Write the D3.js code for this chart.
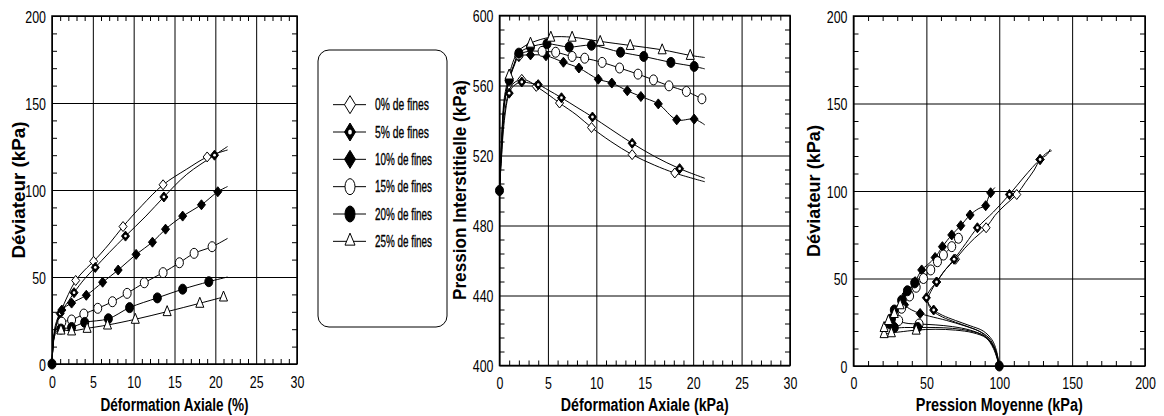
<!DOCTYPE html>
<html><head><meta charset="utf-8">
<script src="https://cdn.jsdelivr.net/npm/d3@7"></script>
<style>
body{margin:0;background:#fff;}
svg text{font-family:"Liberation Sans Narrow","Arial Narrow","Liberation Sans",Arial,sans-serif;fill:#000;}
</style></head><body>
<svg id="c" width="1164" height="416"></svg>
<script>
// ---------- data ----------
const fines = ["0% de fines","5% de fines","10% de fines","15% de fines","20% de fines","25% de fines"];
const markerTypes = ["diamondOpen","diamondDot","diamondFilled","circleOpen","circleFilled","triangleOpen"];

// Déviateur vs Déformation axiale (%)  [x, y, marker?]
const devStrain0 = [[0,0],[0.15,12],[0.4,20],[1,29],[2,40],[2.9,48,1],[4,54],[5.1,59,1],[7,69],[8.7,79,1],[11,91],[13.6,103,1],[16.5,112],[19,119,1],[21.5,123]];
const devStrain5 = [[0,0],[0.15,12],[0.4,20],[1,29,1],[2,36],[2.7,41,1],[4,49],[5.3,55.5,1],[7,64],[9,73.5,1],[11.5,85],[13.7,96,1],[16.5,109],[19.9,120,1],[21.5,125]];
const devStrain10 = [[0,0],[0.15,12],[0.4,22],[1.2,31,1],[2.4,35,1],[4.2,39.5,1],[6.2,47,1],[8.1,54,1],[10.3,63,1],[12.3,70,1],[13.9,77.5,1],[16,85,1],[18.3,91.5,1],[20.3,99,1],[21.5,102]];
const devStrain15 = [[0,0],[0.15,12],[0.4,19],[1.2,24,1],[2.4,25.3,1],[3.9,28.7,1],[5.6,32,1],[7.4,35.8,1],[9.2,40.6,1],[11.3,46.7,1],[13.6,52.5,1],[15.6,58.2,1],[17.4,63.6,1],[19.6,67.4,1],[21.5,72.2]];
const devStrain20 = [[0,0,1],[0.15,12],[0.4,18],[1.1,20.1,1],[2.4,21,1],[4,23.9,1],[6.9,26,1],[9.5,32.4,1],[12.9,38,1],[16,43,1],[19.2,47.3,1],[21.5,50]];
const devStrain25 = [[0,0],[0.15,11],[0.4,17],[1.1,19.5,1],[2.4,19,1],[4.3,20.5,1],[6.8,22.4,1],[10.2,25.7,1],[14.1,30.1,1],[18.1,34.9,1],[21,38.5,1]];

// Pression interstitielle vs Déformation axiale
const poreStrain0 = [[0,500],[0.2,520],[0.5,543],[1,557],[1.5,561.5],[2.3,563.5,1],[3,562.5],[3.8,559.5,1],[5,555],[6.2,550,1],[8,543],[9.5,536,1],[11.5,528],[13.7,520.5,1],[16,514.5],[18.1,510,1],[21.2,505]];
const poreStrain5 = [[0,500],[0.2,518],[0.5,540],[1,555.6,1],[1.5,560],[2.3,562,1],[3,561.5],[4,560.5,1],[5,557.5],[6.4,553,1],[8,547.5],[9.6,542,1],[11.5,535],[13.7,527,1],[16,519.5],[18.6,512.5,1],[21.2,507]];
const poreStrain10 = [[0,500],[0.2,524],[0.5,549],[1,563,1],[1.5,571],[2,576.5,1],[3.2,577.5,1],[4.8,577,1],[6.6,573.3,1],[8.2,570,1],[10.2,563.6,1],[11.6,561.4,1],[13.2,557,1],[14.6,553.7,1],[16.4,549.5,1],[18.3,540.4,1],[20.1,540.8,1],[21.2,537.5]];
const poreStrain15 = [[0,500],[0.2,524],[0.5,550],[1,564],[1.5,572],[2,577.5,1],[3,579.5],[4.4,579.5,1],[5.8,579,1],[7.5,576.6,1],[8.8,575.6,1],[10.6,573.2,1],[12.4,570,1],[14.3,566.5,1],[15.9,563.2,1],[17.5,559.8,1],[19.3,556.6,1],[20.9,552.4,1],[21.2,551.5]];
const poreStrain20 = [[0,500,1],[0.2,525],[0.5,550],[1,563,1],[1.5,572],[2,578.5,1],[3.2,582,1],[4.9,583.8,1],[7.2,582,1],[9.5,583,1],[12.5,579,1],[14.9,576.6,1],[17.7,573.2,1],[20.1,570.9,1],[21.2,569.5]];
const poreStrain25 = [[0,500],[0.2,527],[0.5,553],[1,566,1],[1.5,575],[2,580],[3.2,584.2,1],[5.3,587.6,1],[7.5,587.6,1],[10.4,585.2,1],[13.5,582.9,1],[16.8,580.4,1],[19.7,577.2,1],[21.2,576]];

// Déviateur vs Pression moyenne
const pathPQ0 = [[100,0],[98,8],[94,14],[88,19],[80,22],[70,25],[61,28],[55,31],[52,34],[51,38],[54,44],[57,48,1],[63,55],[70,61,1],[76,67],[83,73],[91,79,1],[97,86],[104,92],[112,98,1],[118,105],[124,112],[128,118,1],[133,122],[136,123]];
const pathPQ5 = [[100,0],[98,9],[95,15],[89,20],[80,23],[70,26],[61,29],[55,32,1],[52,35],[50,39,1],[53,44],[57,48,1],[63,55],[69,61,1],[77,70],[85,79,1],[96,88],[107,98,1],[117,108],[128,118,1],[133,121],[135,124]];
const pathPQ10 = [[100,0],[97,10],[93,16],[86,20],[76,23],[64,26],[52,28.5],[45.7,30,1],[40,32],[35,35,1],[34,38],[36,41,1],[39,44],[42.3,48.2,1],[46.8,54.9,1],[51,58],[56,62,1],[61,68.2,1],[67.4,74.9,1],[73.6,80.2,1],[80,86.3,1],[86,90],[90.7,91.6,1],[92,95],[94.1,99,1],[97,102]];
const pathPQ15 = [[100,0],[96,11],[90,17],[80,20.5],[68,22.5],[56,23.5],[45,24,1],[36,24.5],[31,26,1],[30.5,29],[33,33,1],[35,36],[38.5,40,1],[43,45,1],[48,50,1],[53,54.9,1],[57.6,59.6,1],[61.7,63.4,1],[67.4,68.2,1],[72,73,1],[73,74]];
const pathPQ20 = [[100,0,1],[96,11],[90,17],[80,20],[68,21.5],[56,22],[44,22,1],[35,22],[28,22,1],[25,24,1],[26,27,1],[28,32,1],[33,37.5,1],[37,43,1],[42,47.5,1],[45,50]];
const pathPQ25 = [[100,0],[96,10],[91,16],[82,19],[70,20.5],[56,21],[43,20.5,1],[32,19.5],[26,19,1],[21,18.5,1],[20,19.5],[21,22,1],[24,26,1],[28,30,1],[32,35,1],[37,38.5]];

// axis tick settings
const ticksLeftX = [0,5,10,15,20,25,30];
const ticksLeftY = [0,50,100,150,200];
const ticksMidX = [0,5,10,15,20,25,30];
const ticksMidY = [400,440,480,520,560,600];
const ticksRightX = [0,50,100,150,200];
const ticksRightY = [0,50,100,150,200];

// ---------- drawing ----------
const svg = d3.select("#c");
svg.append("rect").attr("width",1164).attr("height",416).attr("fill","#fff");

function markerPath(type, w, h){
  const p = d3.path();
  if(type.startsWith("diamond")){
    p.moveTo(0,-h/2); p.lineTo(w/2,0); p.lineTo(0,h/2); p.lineTo(-w/2,0); p.closePath();
  } else if(type.startsWith("triangle")){
    p.moveTo(0,-h*0.6); p.lineTo(w/2,h*0.4); p.lineTo(-w/2,h*0.4); p.closePath();
  }
  return p.toString();
}
function drawMarker(g, type, cx, cy, w, h){
  const m = g.append("g").attr("transform",`translate(${cx},${cy})`);
  const filled = type.endsWith("Filled") || type==="diamondDot";
  if(type.startsWith("circle")){
    m.append("ellipse").attr("rx",w/2).attr("ry",h/2)
      .attr("fill",filled?"#000":"#fff").attr("stroke","#000").attr("stroke-width",1);
  } else {
    m.append("path").attr("d",markerPath(type,w,h))
      .attr("fill",filled?"#000":"#fff").attr("stroke","#000").attr("stroke-width",1);
  }
  if(type==="diamondDot"){
    m.append("ellipse").attr("rx",w*0.17).attr("ry",h*0.14).attr("fill","#fff");
  }
}

function fitDigits(sel){
  sel.each(function(){
    const t = d3.select(this);
    const n = t.text().length;
    t.attr("textLength", n*6.9).attr("lengthAdjust","spacingAndGlyphs");
  });
}

function panel(o){
  const g = svg.append("g");
  const x = d3.scaleLinear().domain(o.xd).range([o.L,o.R]);
  const y = d3.scaleLinear().domain(o.yd).range([o.B,o.T]);
  const isMaj = (v,s)=>Math.abs(v/s-Math.round(v/s))<1e-6;
  const xMin = d3.range(o.xd[0],o.xd[1]+1e-9,o.xm).filter(v=>!isMaj(v-o.xd[0],o.xs));
  const yMin = d3.range(o.yd[0],o.yd[1]+1e-9,o.ym).filter(v=>!isMaj(v-o.yd[0],o.ys));
  const W = o.R-o.L, H = o.B-o.T;
  const clean = s=>{s.select(".domain").remove(); s.selectAll("text").remove();};
  // minor ticks, inward, all four sides
  g.append("g").attr("transform",`translate(0,${o.B})`).call(d3.axisBottom(x).tickValues(xMin).tickSize(-5)).call(clean);
  g.append("g").attr("transform",`translate(0,${o.T})`).call(d3.axisTop(x).tickValues(xMin).tickSize(-5)).call(clean);
  g.append("g").attr("transform",`translate(${o.L},0)`).call(d3.axisLeft(y).tickValues(yMin).tickSize(-5)).call(clean);
  g.append("g").attr("transform",`translate(${o.R},0)`).call(d3.axisRight(y).tickValues(yMin).tickSize(-5)).call(clean);
  // grid
  g.append("g").attr("transform",`translate(0,${o.B})`).call(d3.axisBottom(x).tickValues(o.xt).tickSize(-H)).call(clean);
  g.append("g").attr("transform",`translate(${o.L},0)`).call(d3.axisLeft(y).tickValues(o.yt).tickSize(-W)).call(clean);
  g.selectAll(".tick line").attr("stroke","#000").attr("stroke-width",1);
  // frame
  g.append("rect").attr("x",o.L).attr("y",o.T).attr("width",W).attr("height",H)
    .attr("fill","none").attr("stroke","#000").attr("stroke-width",1.5);
  // tick labels
  const xa = g.append("g").attr("transform",`translate(0,${o.B})`)
    .call(d3.axisBottom(x).tickValues(o.xt).tickSize(0).tickPadding(o.xpad).tickFormat(d3.format("d")));
  xa.select(".domain").remove();
  xa.selectAll("text").attr("font-size",17).attr("font-family",null).call(fitDigits);
  const ya = g.append("g").attr("transform",`translate(${o.L},0)`)
    .call(d3.axisLeft(y).tickValues(o.yt).tickSize(0).tickPadding(6).tickFormat(d3.format("d")));
  ya.select(".domain").remove();
  ya.selectAll("text").attr("font-size",17).attr("font-family",null).attr("dy","0.36em").call(fitDigits);
  // titles
  g.append("text").attr("x",(o.L+o.R)/2).attr("y",411).attr("text-anchor","middle")
    .attr("font-size",18).attr("font-weight","bold")
    .attr("textLength",o.xtl).attr("lengthAdjust","spacingAndGlyphs").text(o.xTitle);
  g.append("text").attr("transform",`translate(${o.ytx},${o.yty}) rotate(-90)`).attr("text-anchor","middle")
    .attr("font-size",18.5).attr("font-weight","bold")
    .attr("textLength",o.ytl).attr("lengthAdjust","spacingAndGlyphs").text(o.yTitle);
  // series
  const line = d3.line().x(d=>x(d[0])).y(d=>y(d[1])).curve(d3.curveCatmullRom.alpha(0.5));
  const plot = g.append("g");
  o.series.forEach(s=>{
    plot.append("path").attr("d",line(s)).attr("fill","none").attr("stroke","#000").attr("stroke-width",1);
  });
  o.series.forEach((s,i)=>{
    s.filter(d=>d[2]).forEach(d=>drawMarker(plot, markerTypes[i], x(d[0]), y(d[1]), 8, 10));
  });
}

panel({L:52,R:297,T:16,B:364,xd:[0,30],yd:[0,200],xs:5,xm:1,ys:50,ym:10,
  xt:ticksLeftX, yt:ticksLeftY, xpad:12,
  xTitle:"Déformation Axiale (%)", xtl:148, yTitle:"Déviateur (kPa)", ytx:25, yty:190, ytl:137,
  series:[devStrain0,devStrain5,devStrain10,devStrain15,devStrain20,devStrain25]});
panel({L:499.5,R:790,T:15.5,B:365.5,xd:[0,30],yd:[400,600],xs:5,xm:1,ys:40,ym:8,
  xt:ticksMidX, yt:ticksMidY, xpad:11,
  xTitle:"Déformation Axiale (kPa)", xtl:168, yTitle:"Pression Interstitielle (kPa)", ytx:466, yty:190, ytl:220,
  series:[poreStrain0,poreStrain5,poreStrain10,poreStrain15,poreStrain20,poreStrain25]});
panel({L:853.5,R:1145,T:16,B:366,xd:[0,200],yd:[0,200],xs:50,xm:10,ys:50,ym:10,
  xt:ticksRightX, yt:ticksRightY, xpad:11,
  xTitle:"Pression Moyenne (kPa)", xtl:167, yTitle:"Déviateur (kPa)", ytx:820, yty:191, ytl:132,
  series:[pathPQ0,pathPQ5,pathPQ10,pathPQ15,pathPQ20,pathPQ25]});

// legend
const lg = svg.append("g");
lg.append("rect").attr("x",318).attr("y",50).attr("width",129).attr("height",277).attr("rx",11).attr("ry",11)
  .attr("fill","#fff").attr("stroke","#000").attr("stroke-width",1);
const legendY = d3.scaleBand().domain(fines).range([91,255]);
fines.forEach((f,i)=>{
  const cy = legendY(f)+legendY.bandwidth()/2;
  lg.append("line").attr("x1",333).attr("x2",366).attr("y1",cy).attr("y2",cy).attr("stroke","#000").attr("stroke-width",1);
  const t = markerTypes[i];
  if(t.startsWith("triangle")) drawMarker(lg,t,350,cy-1,10,12);
  else if(t.startsWith("circle")) drawMarker(lg,t,350,cy,10,16);
  else drawMarker(lg,t,350,cy,11,18);
  lg.append("text").attr("x",375).attr("y",cy+5.5).attr("font-size",16.5)
    .attr("stroke","#000").attr("stroke-width",0.35)
    .attr("textLength", f.length>11?57:54).attr("lengthAdjust","spacingAndGlyphs").text(f);
});
</script>
</body></html>
